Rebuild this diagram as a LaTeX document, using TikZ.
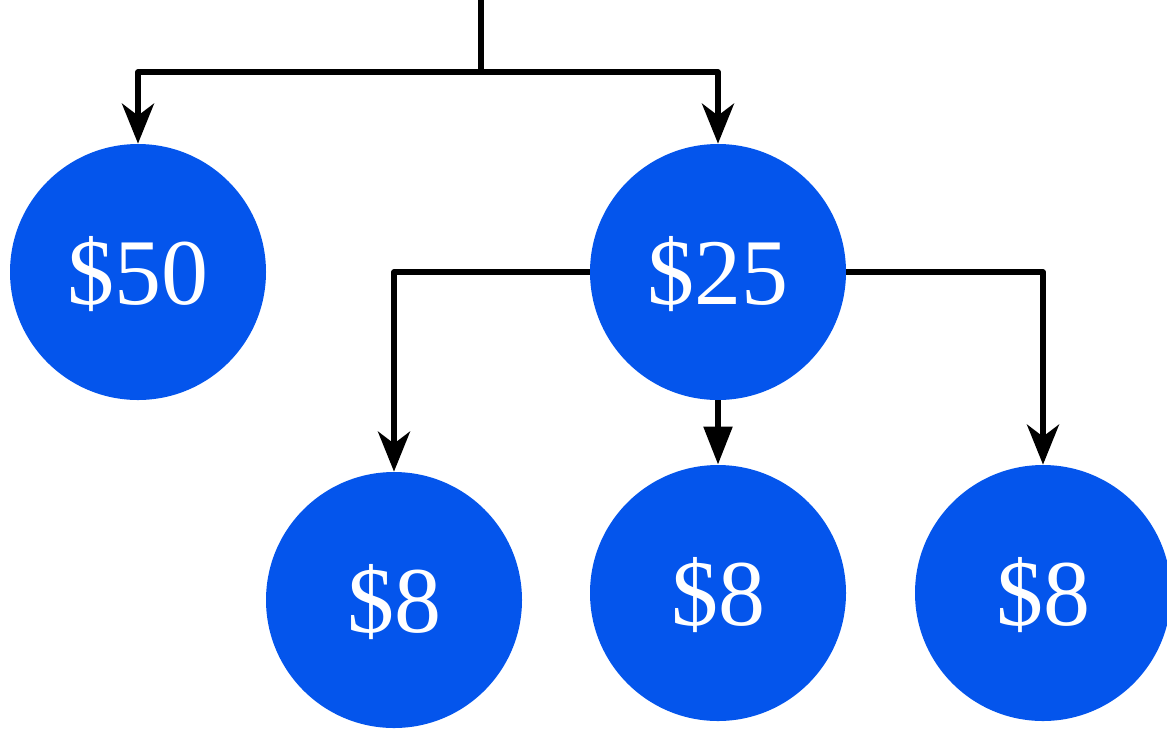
\documentclass[tikz,border=0pt]{standalone}
\usepackage{fontspec}
\setmainfont{Liberation Serif}
\usetikzlibrary{arrows.meta}
\definecolor{coinblue}{HTML}{0455EC}
\tikzset{
    coin/.style={circle,fill=coinblue,draw=none,minimum size=128pt,inner sep=0pt,
        text=white,text height=37pt,text depth=5pt,font=\fontsize{47}{47}\selectfont},
    link/.style={line width=2.7pt,line join=round,-{Stealth[length=20pt,width=16pt,inset=6pt]}},
    drop/.style={line width=2.7pt,-{Triangle[length=19pt,width=14pt]}}
}

\begin{document}
\begin{tikzpicture}[x=0.5pt,y=-0.5pt]
            \useasboundingbox (0,0) rectangle (1167,730);
            \node[coin] (c50) at (138,272) {\$50};
            \node[coin] (c25) at (718,272) {\$25};
            \node[coin] (c8a) at (394,600) {\$8};
            \node[coin] (c8b) at (718,593) {\$8};
            \node[coin] (c8c) at (1043,593) {\$8};
            \coordinate (top) at (481,0);
            \coordinate (split) at (481,72);
            \draw[line width=2.7pt] (top) -- (split);
            \draw[link] (split) -| (c50.north);
            \draw[link] (split) -| (c25.north);
            \draw[link] (c25.west) -| (c8a.north);
            \draw[drop] (c25.south) -- (c8b.north);
            \draw[link] (c25.east) -| (c8c.north);
        \end{tikzpicture}
\end{document}
